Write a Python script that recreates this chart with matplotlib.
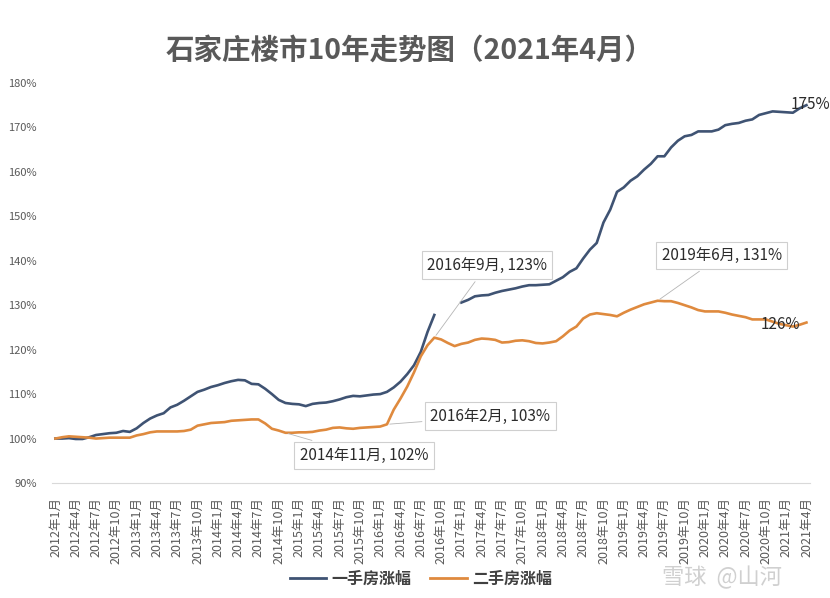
"""
石家庄楼市10年走势图 (2021年4月) - 一手房 / 二手房 涨幅
"""
import numpy as np
import matplotlib
matplotlib.use('Agg')
import matplotlib.pyplot as plt
from matplotlib.lines import Line2D

plt.rcParams['font.family'] = ['Noto Sans CJK SC', 'DejaVu Sans']

# monthly categories 2012年1月 .. 2021年4月
months = [f"{y}年{m}月" for y in range(2012, 2022) for m in range(1, 13)][:112]

# 一手房涨幅 (%), 2016年10-12月 missing in source
new_home = [
    100.0, 100.0, 100.1, 99.9, 99.9, 100.3, 100.8, 101.0, 101.2, 101.3, 101.7, 101.5,
    102.3, 103.5, 104.5, 105.2, 105.7, 107.0, 107.6, 108.5, 109.5, 110.5, 111.0, 111.6,
    112.0, 112.5, 112.9, 113.2, 113.1, 112.3, 112.2, 111.2, 110.0, 108.7, 108.0, 107.8,
    107.7, 107.3, 107.8, 108.0, 108.1, 108.4, 108.8, 109.3, 109.6, 109.5, 109.7, 109.9,
    110.0, 110.5, 111.5, 112.8, 114.5, 116.5, 119.5, 124.0, 127.8, np.nan, np.nan, np.nan,
    130.6, 131.2, 132.0, 132.2, 132.3, 132.8, 133.2, 133.5, 133.8, 134.2, 134.5, 134.5,
    134.6, 134.7, 135.5, 136.3, 137.5, 138.3, 140.5, 142.5, 144.0, 148.6, 151.5, 155.5,
    156.5, 158.0, 159.0, 160.5, 161.8, 163.5, 163.5, 165.5, 167.0, 168.0, 168.3, 169.1,
    169.1, 169.1, 169.5, 170.5, 170.8, 171.0, 171.5, 171.8, 172.8, 173.2, 173.6, 173.5,
    173.4, 173.3, 174.3, 175.0,
]
# 二手房涨幅 (%)
resale = [
    100.0, 100.3, 100.5, 100.4, 100.3, 100.2, 100.0, 100.1, 100.2, 100.2, 100.2, 100.2,
    100.7, 101.0, 101.4, 101.6, 101.6, 101.6, 101.6, 101.7, 102.0, 102.9, 103.2, 103.5,
    103.6, 103.7, 104.0, 104.1, 104.2, 104.3, 104.3, 103.4, 102.2, 101.8, 101.3, 101.3,
    101.4, 101.4, 101.5, 101.8, 102.0, 102.4, 102.5, 102.3, 102.2, 102.4, 102.5, 102.6,
    102.7, 103.2, 106.5, 109.0, 111.7, 114.9, 118.5, 121.0, 122.7, 122.3, 121.5, 120.8,
    121.3, 121.6, 122.2, 122.5, 122.4, 122.2, 121.6, 121.7, 122.0, 122.1, 121.9, 121.5,
    121.4, 121.6, 121.9, 123.0, 124.3, 125.2, 127.0, 127.9, 128.2, 128.0, 127.8, 127.5,
    128.3, 129.0, 129.6, 130.2, 130.6, 131.0, 130.9, 130.9, 130.5, 130.0, 129.5, 128.9,
    128.6, 128.6, 128.6, 128.3, 127.9, 127.6, 127.3, 126.8, 126.8, 126.8, 126.3, 125.8,
    125.5, 125.2, 125.6, 126.1,
]

yticks = [90, 100, 110, 120, 130, 140, 150, 160, 170, 180]

# callouts on the 二手房 line: (month index, label, text position)
callouts = [
    (56, "2016年9月, 123%", (63.8, 139.0)),
    (49, "2016年2月, 103%", (64.3, 105.0)),
    (34, "2014年11月, 102%", (45.6, 96.2)),
    (89, "2019年6月, 131%", (98.5, 141.2)),
]

BLUE = '#3f5373'
ORANGE = '#df8a3e'
GREY = '#595959'

x = np.arange(len(months))
fig = plt.figure(figsize=(8.3, 5.98), dpi=100)
fig.patch.set_facecolor('white')
ax = fig.add_axes([0.0627, 0.1923, 0.913, 0.669])

ax.plot(x, new_home, color=BLUE, lw=1.9, zorder=3)
ax.plot(x, resale, color=ORANGE, lw=1.9, zorder=3)

ax.set_xlim(-0.5, len(months) - 0.5)
ax.set_ylim(90, 180)
ax.set_yticks(yticks)
ax.set_yticklabels([f"{v}%" for v in yticks], color=GREY, fontsize=8)
ax.set_xticks(x[::3])
ax.set_xticklabels(months[::3], rotation=90, color=GREY, fontsize=9)
ax.tick_params(length=0, axis='y', pad=11)
ax.tick_params(length=0, axis='x', pad=10)
for s in ['top', 'right', 'left']:
    ax.spines[s].set_visible(False)
ax.spines['bottom'].set_color('#d9d9d9')

for i, label, pos in callouts:
    ax.annotate(label, xy=(i, resale[i]), xytext=pos, ha='center', va='center',
                fontsize=11, color='#2b2b2b', zorder=5,
                bbox=dict(boxstyle='square,pad=0.35', fc='white', ec='#cfcfcf', lw=0.8),
                arrowprops=dict(arrowstyle='-', color='#b5b5b5', lw=0.6))

ax.text(len(months) - 1 - 2.4, new_home[-1] + 0.2, f"{new_home[-1]:.0f}%",
        fontsize=11, color='#2b2b2b', va='center', ha='left', clip_on=False, zorder=5)
ax.text(len(months) - 1 - 3.9, resale[-1] - 0.4, f"{resale[-1]:.0f}%",
        fontsize=11, color='#2b2b2b', va='center', ha='center', zorder=5)

fig.text(0.494, 0.915, "石家庄楼市10年走势图（2021年4月）", ha='center', va='center',
         fontsize=20.5, fontweight='bold', color=GREY)

handles = [Line2D([0], [0], color=BLUE, lw=2), Line2D([0], [0], color=ORANGE, lw=2)]
fig.legend(handles, ["一手房涨幅", "二手房涨幅"], loc='center', bbox_to_anchor=(0.507, 0.033),
           ncol=2, frameon=False, handlelength=2.3, columnspacing=1.2, handletextpad=0.3,
           prop={'size': 11.5, 'weight': 'bold'}, labelcolor='#404040')

# platform watermark
fig.text(0.87, 0.035, "雪球  @山河", ha='center', va='center', fontsize=16,
         color='#d0d0d0')

fig.savefig('out.png', dpi=100, facecolor='white')
plt.close(fig)
